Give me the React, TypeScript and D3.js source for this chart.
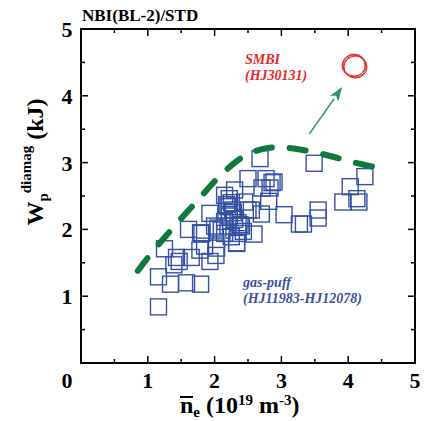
import React from "react";
import * as d3 from "d3";

// gas-puff shots (HJ11983-HJ12078): line-averaged density vs diamagnetic energy
const gasPuffNe = [
  1.16, 1.16, 1.34, 1.58, 1.79, 1.25, 1.43, 1.39, 1.65, 1.61, 1.79, 1.78, 1.93,
  1.93, 2.0, 2.15, 2.3, 2.22, 2.2, 2.27, 1.85, 2.05, 2.15, 2.35, 2.5, 2.81, 2.5,
  2.77, 2.71, 2.86, 2.89, 2.83, 2.59, 2.7, 3.04, 3.27, 3.33, 3.55, 3.55, 3.49,
  2.68, 4.25, 4.03, 3.92, 4.13, 4.16, 2.55, 2.15, 2.1, 2.43, 2.33, 2.02, 1.81,
  2.25, 2.28, 2.22, 2.3, 2.2, 2.35, 2.4, 2.25, 2.33, 1.47, 2.45, 2.03, 2.38,
  2.18,
];
const gasPuffWp = [
  0.84, 1.29, 1.18, 1.2, 1.18, 1.71, 1.58, 1.47, 1.58, 2.0, 1.95, 1.69, 1.52,
  2.24, 2.05, 2.51, 2.59, 2.46, 2.34, 2.29, 1.75, 2.02, 1.94, 1.94, 2.29, 2.42,
  2.76, 2.76, 2.62, 2.7, 2.71, 2.62, 1.93, 2.23, 2.22, 2.08, 2.08, 2.29, 2.17,
  2.99, 3.06, 2.79, 2.64, 2.41, 2.46, 2.41, 2.29, 2.12, 1.99, 1.97, 1.79, 1.61,
  1.94, 2.4, 2.25, 2.2, 2.15, 2.05, 2.1, 2.05, 1.89, 1.8, 1.52, 2.41, 1.72,
  2.07, 2.37,
];

// SMBI shot (HJ30131), several overlapping rings
const smbiNe = [4.08, 4.1, 4.09, 4.11];
const smbiWp = [4.45, 4.44, 4.46, 4.43];

// dashed envelope
const envNe = [0.85, 1.1, 1.4, 1.75, 2.1, 2.45, 2.8, 3.1, 3.6, 4.1, 4.45];
const envWp = [1.38, 1.7, 2.05, 2.44, 2.82, 3.1, 3.22, 3.22, 3.13, 3.0, 2.92];

// arrow from the gas-puff envelope to the SMBI point
const arrowNe = [3.42, 3.91];
const arrowWp = [3.43, 4.13];

const majorTicks = [1, 2, 3, 4];
const minorTicks = [0.5, 1.5, 2.5, 3.5, 4.5];
const tickLabels = ["1", "2", "3", "4", "5"];

const left = 81;
const right = 415;
const top = 29;
const bottom = 363;
const serif = "Liberation Serif, Times New Roman, DejaVu Serif, serif";

export default function App() {
  const x = d3.scaleLinear().domain([0, 5]).range([left, right]);
  const y = d3.scaleLinear().domain([0, 5]).range([bottom, top]);

  const envLine = d3
    .line<number>()
    .x((d, i) => x(envNe[i]))
    .y((d) => y(d))
    .curve(d3.curveCatmullRom.alpha(0.5));

  const ax0 = x(arrowNe[0]);
  const ay0 = y(arrowWp[0]);
  const ax1 = x(arrowNe[1]);
  const ay1 = y(arrowWp[1]);
  const ang = Math.atan2(ay1 - ay0, ax1 - ax0);
  const headLen = 14;
  const headW = 5;
  const bx = ax1 - headLen * Math.cos(ang);
  const by = ay1 - headLen * Math.sin(ang);
  const px = -Math.sin(ang) * headW;
  const py = Math.cos(ang) * headW;
  const head = `M${ax1},${ay1}L${bx + px},${by + py}L${bx + (ax1 - bx) * 0.25},${by + (ay1 - by) * 0.25}L${bx - px},${by - py}Z`;

  const tickStroke = { stroke: "#000", strokeWidth: 1.5 };
  const txt = { fontFamily: serif, fontWeight: "bold" as const };

  return (
    <svg width={426} height={421} style={{ position: "absolute", left: 0, top: 0 }}>
      <rect width={426} height={421} fill="#fff" />

      {/* gas-puff squares */}
      {gasPuffNe.map((d, i) => (
        <rect
          key={"s" + i}
          x={x(d) - 8}
          y={y(gasPuffWp[i]) - 8}
          width={16}
          height={16}
          fill="none"
          stroke="#3551a6"
          strokeWidth={1.4}
        />
      ))}

      {/* envelope */}
      <path
        d={envLine(envWp) || ""}
        fill="none"
        stroke="#0e7a3b"
        strokeWidth={6}
        strokeLinecap="round"
        strokeDasharray="16 18"
      />

      {/* SMBI rings */}
      {smbiNe.map((d, i) => (
        <ellipse
          key={"c" + i}
          cx={x(d)}
          cy={y(smbiWp[i])}
          rx={11.5}
          ry={11}
          fill="none"
          stroke="#e8262c"
          strokeWidth={1}
        />
      ))}

      {/* arrow */}
      <line x1={ax0} y1={ay0} x2={bx} y2={by} stroke="#2e9463" strokeWidth={1.6} />
      <path d={head} fill="#2e9463" />

      {/* frame */}
      <rect x={left} y={top} width={right - left} height={bottom - top} fill="none" stroke="#000" strokeWidth={2} />

      {/* ticks */}
      {majorTicks.map((t) => (
        <g key={"M" + t}>
          <line x1={x(t)} x2={x(t)} y1={bottom} y2={bottom - 7} {...tickStroke} />
          <line x1={x(t)} x2={x(t)} y1={top} y2={top + 7} {...tickStroke} />
          <line x1={left} x2={left + 7} y1={y(t)} y2={y(t)} {...tickStroke} />
          <line x1={right} x2={right - 7} y1={y(t)} y2={y(t)} {...tickStroke} />
        </g>
      ))}
      {minorTicks.map((t) => (
        <g key={"m" + t}>
          <line x1={x(t)} x2={x(t)} y1={bottom} y2={bottom - 4} {...tickStroke} />
          <line x1={x(t)} x2={x(t)} y1={top} y2={top + 4} {...tickStroke} />
          <line x1={left} x2={left + 4} y1={y(t)} y2={y(t)} {...tickStroke} />
          <line x1={right} x2={right - 4} y1={y(t)} y2={y(t)} {...tickStroke} />
        </g>
      ))}

      {/* tick labels */}
      <g style={{ ...txt, fontSize: 22 }} fill="#000">
        <text x={67} y={388} textAnchor="middle">0</text>
        {tickLabels.map((l, i) => (
          <text key={"xl" + l} x={x(i + 1)} y={388} textAnchor="middle">{l}</text>
        ))}
        {tickLabels.map((l, i) => (
          <text key={"yl" + l} x={67} y={y(i + 1) + 8} textAnchor="middle">{l}</text>
        ))}
      </g>

      {/* title */}
      <text x={82} y={21} style={{ ...txt, fontSize: 17 }}>NBI(BL-2)/STD</text>

      {/* annotations */}
      <g style={{ ...txt, fontStyle: "italic", fontSize: 14 }} fill="#e8262c">
        <text x={245} y={64}>SMBI</text>
        <text x={245} y={80}>(HJ30131)</text>
      </g>
      <g style={{ ...txt, fontStyle: "italic", fontSize: 14 }} fill="#3a4fa2">
        <text x={243} y={287}>gas-puff</text>
        <text x={243} y={303}>(HJ11983-HJ12078)</text>
      </g>

      {/* x axis label */}
      <line x1={180} x2={193} y1={397} y2={397} stroke="#000" strokeWidth={2} />
      <text x={180} y={413} style={{ ...txt, fontSize: 24 }}>
        n<tspan style={{ fontSize: 15 }} dy={4}>e</tspan>
        <tspan dy={-4}> (10</tspan>
        <tspan style={{ fontSize: 15 }} dy={-8}>19</tspan>
        <tspan dy={8}> m</tspan>
        <tspan style={{ fontSize: 15 }} dy={-8}>-3</tspan>
        <tspan dy={8}>)</tspan>
      </text>

      {/* y axis label */}
      <g transform="translate(43,162) rotate(-90)">
        <text x={0} y={0} textAnchor="middle" style={{ ...txt, fontSize: 24 }}>
          W<tspan style={{ fontSize: 15 }} dy={5}>p</tspan>
          <tspan style={{ fontSize: 15 }} dy={-17}>diamag</tspan>
          <tspan dy={12}> (kJ)</tspan>
        </text>
      </g>
    </svg>
  );
}
